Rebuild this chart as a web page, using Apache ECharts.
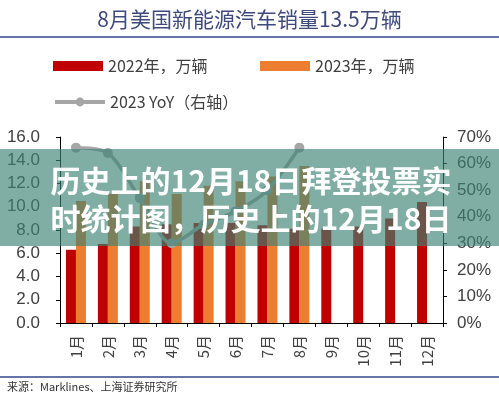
<!DOCTYPE html>
<html>
<head>
<meta charset="utf-8">
<style>
html,body{margin:0;padding:0;background:#fff;}
#chart{width:499px;height:396px;}
</style>
<script src="https://cdn.jsdelivr.net/npm/echarts@6/dist/echarts.min.js"></script>
</head>
<body>
<div id="chart"></div>
<script>
const months = ['1月','2月','3月','4月','5月','6月','7月','8月','9月','10月','11月','12月'];
const sales2022 = [6.3, 6.8, 8.3, 8.5, 8.6, 8.6, 8.4, 8.1, 8.1, 8.3, 9.0, 10.4];
const sales2023 = [10.5, 11.1, 12.2, 11.1, 11.8, 12.2, 12.6, 13.5];
const yoy2023 = [66, 64, 47, 30, 37, 42, 50, 66];
const leftTicks = {min: 0, max: 16, interval: 2};
const rightTicks = {min: 0, max: 70, interval: 10};

const chart = echarts.init(document.getElementById('chart'));
const axisText = {color: '#404040', fontSize: 17, fontFamily: 'Liberation Sans, Arial, sans-serif'};
const legendText = {color: '#404040', fontSize: 16, fontFamily: 'Noto Sans CJK SC'};
const option = {
  animation: false,
  title: {
    text: '8月美国新能源汽车销量13.5万辆',
    left: 'center', top: 4,
    textStyle: {color: '#3f4a7c', fontSize: 21, fontWeight: 'normal', fontFamily: 'Noto Sans CJK SC'}
  },
  legend: [
    {data: [{name: '2022年，万辆', icon: 'rect'}], left: 48, top: 53, itemWidth: 50, itemHeight: 10, textStyle: legendText},
    {data: [{name: '2023年，万辆', icon: 'rect'}], left: 255, top: 53, itemWidth: 50, itemHeight: 10, textStyle: legendText},
    {data: ['2023 YoY（右轴）'], left: 48, top: 89, itemWidth: 50, itemHeight: 11, textStyle: legendText,
     lineStyle: {width: 4}}
  ],
  grid: {left: 60, right: 56, top: 137, bottom: 73},
  xAxis: {
    type: 'category', data: months,
    axisLine: {lineStyle: {color: '#000', width: 1}},
    axisTick: {show: true, length: 4, lineStyle: {color: '#000'}},
    axisLabel: {rotate: 90, margin: 12, color: '#404040', fontSize: 15, fontFamily: 'Noto Sans CJK SC'}
  },
  yAxis: [
    {type: 'value', min: leftTicks.min, max: leftTicks.max, interval: leftTicks.interval,
     axisLine: {show: true, lineStyle: {color: '#000'}},
     axisTick: {show: true, length: 4, lineStyle: {color: '#000'}},
     splitLine: {show: false},
     axisLabel: Object.assign({margin: 20, formatter: v => v.toFixed(1)}, axisText)},
    {type: 'value', position: 'right', min: rightTicks.min, max: rightTicks.max, interval: rightTicks.interval,
     axisLine: {show: true, lineStyle: {color: '#000'}},
     axisTick: {show: true, length: 4, lineStyle: {color: '#000'}},
     splitLine: {show: false},
     axisLabel: Object.assign({margin: 14, formatter: '{value}%'}, axisText)}
  ],
  series: [
    {name: '2022年，万辆', type: 'bar', data: sales2022, barWidth: 10, barGap: '0%',
     itemStyle: {color: '#c00000'}},
    {name: '2023年，万辆', type: 'bar', data: sales2023, barWidth: 10, barGap: '0%',
     itemStyle: {color: '#ed7d31'}},
    {name: '2023 YoY（右轴）', type: 'line', yAxisIndex: 1, data: yoy2023, smooth: 0.3,
     symbol: 'circle', symbolSize: 10, z: 5,
     lineStyle: {color: '#a6a6a6', width: 3.5}, itemStyle: {color: '#a6a6a6'}}
  ],
  graphic: [
    {type: 'line', shape: {x1: 0, y1: 37, x2: 499, y2: 37}, style: {stroke: '#34468a', lineWidth: 1.5}},
    {type: 'line', shape: {x1: 0, y1: 377, x2: 499, y2: 377}, style: {stroke: '#34468a', lineWidth: 1.5}},
    {type: 'text', left: 7, top: 381,
     style: {text: '来源：Marklines、上海证券研究所', fill: '#333', fontSize: 11, fontFamily: 'Noto Sans CJK SC'}},
    {type: 'rect', shape: {x: 0, y: 149, width: 499, height: 97}, z: 100,
     style: {fill: 'rgba(60,130,115,0.65)'}},
    {type: 'text', z: 101, x: 251, y: 181,
     style: {text: '历史上的12月18日拜登投票实', fill: '#fff', fontSize: 30, fontWeight: 'bold',
             fontFamily: 'Noto Sans CJK SC', align: 'center', verticalAlign: 'middle'}},
    {type: 'text', z: 101, x: 251, y: 219,
     style: {text: '时统计图，历史上的12月18日', fill: '#fff', fontSize: 30, fontWeight: 'bold',
             fontFamily: 'Noto Sans CJK SC', align: 'center', verticalAlign: 'middle'}}
  ]
};
chart.setOption(option);
</script>
</body>
</html>
